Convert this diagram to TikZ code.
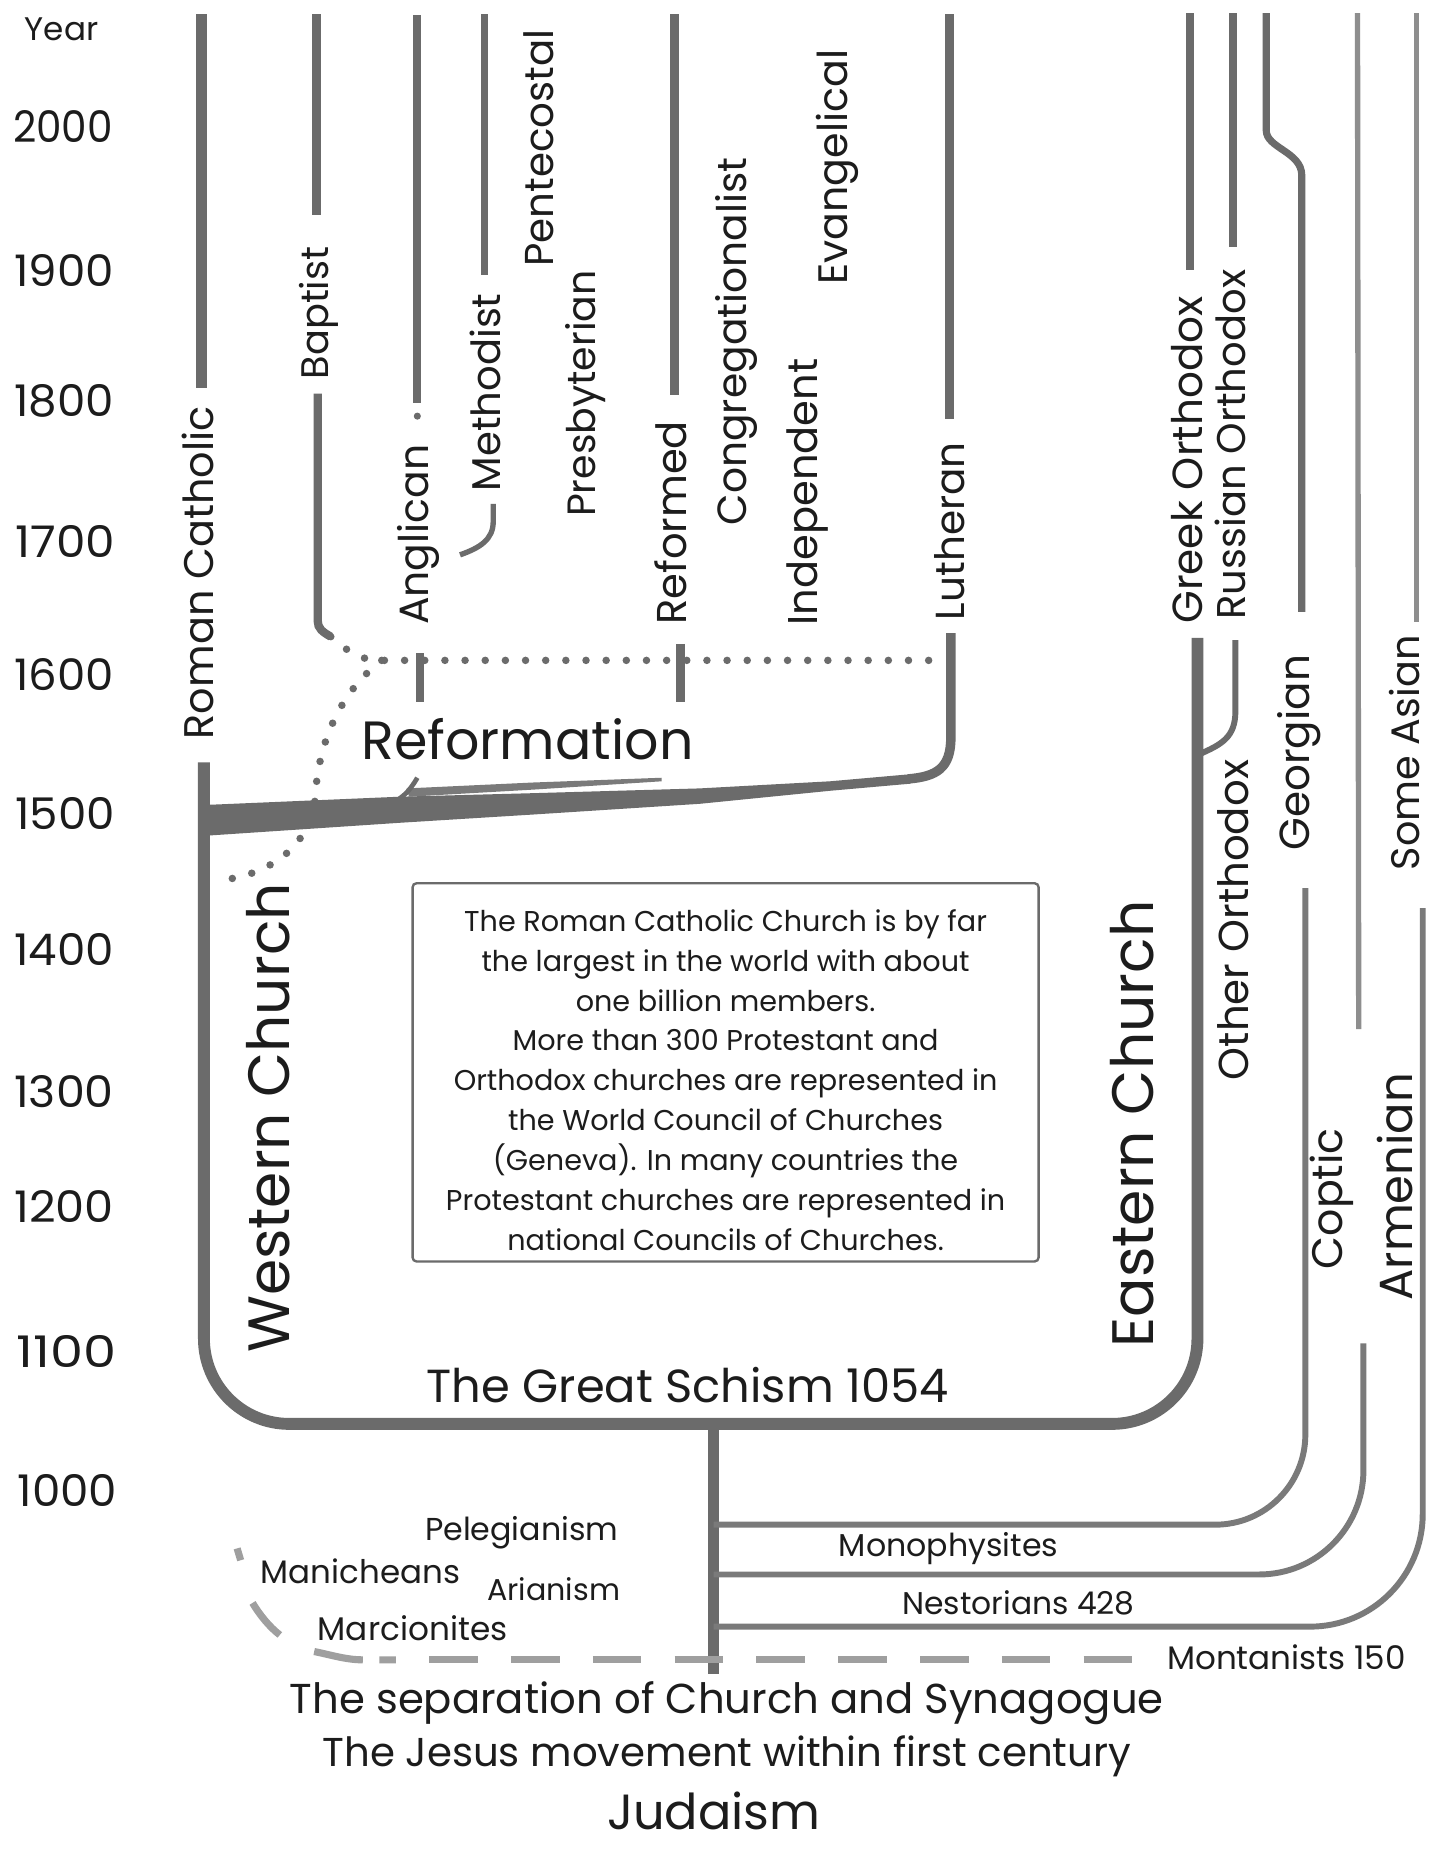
\documentclass[tikz,border=0pt]{standalone}
\usepackage{fontspec}
\setmainfont{Poppins}
\usepackage{graphicx}
\newlength\un
\setlength\un{0.6pt}
\newcommand{\fitw}[2]{\resizebox{#1\un}{!}{#2}}
\newcommand{\fityr}[1]{\resizebox{84\un}{27\un}{#1}}
\definecolor{ln}{HTML}{6B6B6B}
\definecolor{lnl}{HTML}{8E8E8E}
\definecolor{txt}{HTML}{1C1C1C}
\begin{document}
\begin{tikzpicture}[x=\un,y=-\un,
  lab/.style={inner sep=0pt,text=txt},
  vlab/.style={lab,rotate=90},
  denom/.style={draw=ln,line width=4.2pt},
  trunk/.style={draw=ln,line width=6pt,rounded corners=43.2pt},
  branch/.style={draw=ln!90,line width=3pt},
  thincol/.style={draw=lnl,line width=2.7pt},
  dotline/.style={draw=ln,line width=3.8pt,line cap=round,dash pattern=on 0pt off 10.2pt},
  dashline/.style={draw=lnl!85,line width=3.6pt}]

\useasboundingbox (0,0) rectangle (1212,1568);
\fill[white] (0,0) rectangle (1212,1568);

% ---------- year axis ----------
\node[lab] (year) at (52,25) {\fitw{62}{Year}};
\node[lab] (y2000) at (53,107) {\fityr{2000}};
\node[lab] (y1900) at (54,228) {\fityr{1900}};
\node[lab] (y1800) at (54,338) {\fityr{1800}};
\node[lab] (y1700) at (55,457) {\fityr{1700}};
\node[lab] (y1600) at (54,569) {\fityr{1600}};
\node[lab] (y1500) at (55,686) {\fityr{1500}};
\node[lab] (y1400) at (54,801) {\fityr{1400}};
\node[lab] (y1300) at (54,921) {\fityr{1300}};
\node[lab] (y1200) at (54,1018) {\fityr{1200}};
\node[lab] (y1100) at (56,1140) {\fityr{1100}};
\node[lab] (y1000) at (57,1257) {\fityr{1000}};

% ---------- top denomination lines ----------
\draw[denom,line width=5.4pt] (170,12) -- (170,327);
\draw[denom] (267,12) -- (267,181);
\draw[denom] (268,332) -- (268,524) .. controls (268,530) and (272,533) .. (279,537);
\draw[denom] (352,13) -- (352,340);
\fill[ln] (352,351) circle[radius=1.8pt];
\draw[denom] (354,551) -- (354,592);
\draw[denom,line width=3.6pt] (409,12) -- (409,232);
\draw[ln,line width=2.7pt] (416,425) -- (416,440) .. controls (416,455) and (405,462) .. (388,468);
\draw[denom] (569,12) -- (569,333);
\draw[denom] (574,543) -- (574,592);
\draw[denom,line width=4.8pt] (801,12) -- (801,353);
\draw[denom,line width=4.8pt] (802,534) -- (802,622) .. controls (802,648) and (790,655) .. (766,657);
\draw[denom] (1004,11) -- (1004,228);
\draw[denom,line width=3.6pt] (1040,11) -- (1040,208);
\draw[denom,line width=3.6pt] (1068,11) -- (1068,110) .. controls (1068,125) and (1098,128) .. (1098,148) -- (1098,516);
\draw[thincol] (1145,11) -- (1146,868);
\draw[thincol] (1195,11) -- (1195,525);

% ---------- reformation stroke ----------
\fill[ln] (172,679) -- (337,672) -- (450,669) -- (590,665) -- (700,659) -- (768,653)
  -- (768,661) -- (700,667) -- (590,678) -- (450,687) -- (337,694) -- (172,705) -- cycle;
\fill[ln!90] (343,665) -- (450,660) -- (558,656) -- (558,659) -- (450,666) -- (345,672) -- cycle;
\draw[ln,line width=2.4pt] (322,680) .. controls (338,676) and (345,668) .. (352,656);

% dotted lines
\draw[dotline] (279,537) .. controls (296,552) and (306,557) .. (322,557) -- (797,557);
\draw[dotline] (322,557) .. controls (285,585) and (268,630) .. (266,672) .. controls (262,715) and (225,740) .. (180,743);

% ---------- main trunk ----------
\draw[trunk] (172,643) -- (172,1201) -- (1010,1201) -- (1010,538);
\draw[ln,line width=3pt] (1042,540) -- (1042,600) .. controls (1042,622) and (1030,628) .. (1012,636);
\draw[ln,line width=5.4pt] (602,1201) -- (602,1412);

% ---------- eastern branches ----------
\draw[branch,rounded corners=45.6pt] (602,1286) -- (1101,1286) -- (1101,749);
\draw[branch,rounded corners=52.8pt] (602,1328) -- (1150,1328) -- (1150,1133);
\draw[branch,rounded corners=57pt] (602,1372) -- (1200,1372) -- (1200,766);

% dashed early line
\draw[dashline,dash pattern=on 24.6pt off 16.8pt] (362,1400) -- (958,1400);
\draw[dashline] (200,1306) -- (203,1316)
  (213,1352) .. controls (219,1362) and (227,1372) .. (236,1379)
  (265,1393) .. controls (280,1396) and (292,1400) .. (306,1400)
  (320,1400) -- (334,1400);

% ---------- box ----------
\node[draw=ln,line width=1.2pt,rounded corners=2pt,minimum width=316.8pt,minimum height=191.4pt,inner sep=0pt] (box) at (612,904.5) {};
\node[lab,align=center,font=\fontsize{14.5pt}{20.2pt}\selectfont] (boxtxt) at (612,911) {The Roman Catholic Church is by far\\the largest in the world with about\\one billion members.\\More than 300 Protestant and\\Orthodox churches are represented in\\the World Council of Churches\\(Geneva). In many countries the\\Protestant churches are represented in\\national Councils of Churches.};

% ---------- vertical labels ----------
\node[vlab] (rc) at (167,483) {\fitw{281}{Roman Catholic}};
\node[vlab] (bap) at (269,264) {\fitw{112}{Baptist}};
\node[vlab] (ang) at (353,451) {\fitw{152}{Anglican}};
\node[vlab] (met) at (409,331) {\fitw{167}{Methodist}};
\node[vlab] (pen) at (454,125) {\fitw{200}{Pentecostal}};
\node[vlab] (pre) at (494,332) {\fitw{208}{Presbyterian}};
\node[vlab] (ref) at (566,441) {\fitw{172}{Reformed}};
\node[vlab] (con) at (621,288) {\fitw{310}{Congregationalist}};
\node[vlab] (ind) at (681,415) {\fitw{225}{Independent}};
\node[vlab] (eva) at (706,141) {\fitw{198}{Evangelical}};
\node[vlab] (lut) at (801,448) {\fitw{150}{Lutheran}};
\node[vlab] (gre) at (1001,388) {\fitw{276}{Greek Orthodox}};
\node[vlab] (rus) at (1038,375) {\fitw{295}{Russian Orthodox}};
\node[vlab] (oth) at (1040,776) {\fitw{270}{Other Orthodox}};
\node[vlab] (geo) at (1096,635) {\fitw{165}{Georgian}};
\node[vlab] (asi) at (1185,635) {\fitw{198}{Some Asian}};
\node[vlab] (cop) at (1123,1011) {\fitw{119}{Coptic}};
\node[vlab] (arm) at (1177,1001) {\fitw{192}{Armenian}};
\node[vlab] (wes) at (226,943) {\fitw{396}{Western Church}};
\node[vlab] (eas) at (955,948) {\fitw{377}{Eastern Church}};

% ---------- horizontal labels ----------
\node[lab,anchor=base] (refm) at (445,641) {\fitw{280}{Reformation}};
\node[lab,anchor=base] (schism) at (580,1183) {\fitw{440}{The Great Schism 1054}};
\node[lab,anchor=base] (pel) at (440,1299) {\fitw{163}{Pelegianism}};
\node[lab,anchor=base] (mon) at (800,1313) {\fitw{185}{Monophysites}};
\node[lab,anchor=base] (man) at (304,1336) {\fitw{168}{Manicheans}};
\node[lab,anchor=base] (ari) at (467,1350) {\fitw{112}{Arianism}};
\node[lab,anchor=base] (nes) at (859,1362) {\fitw{196}{Nestorians 428}};
\node[lab,anchor=base] (mar) at (348,1384) {\fitw{160}{Marcionites}};
\node[lab,anchor=base] (mnt) at (1085,1408) {\fitw{201}{Montanists 150}};
\node[lab,anchor=base] (sep) at (613,1445) {\fitw{737}{The separation of Church and Synagogue}};
\node[lab,anchor=base] (jes) at (613,1490) {\fitw{682}{The Jesus movement within first century}};
\node[lab,anchor=base] (jud) at (602,1543) {\fitw{180}{Judaism}};
\end{tikzpicture}
\end{document}
